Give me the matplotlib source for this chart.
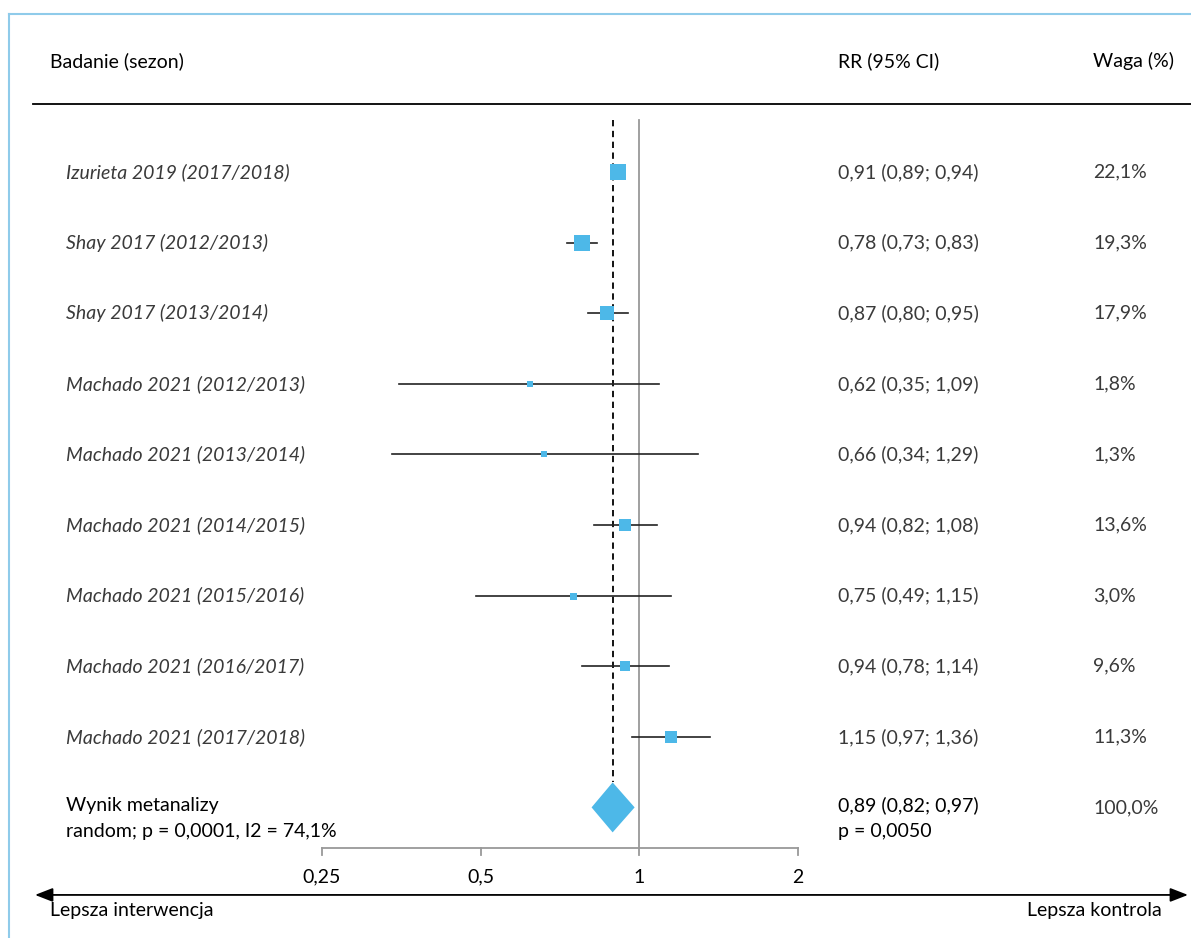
import numpy as np
import matplotlib
matplotlib.use('Agg')
from matplotlib import pyplot as plt
from matplotlib.patches import Polygon, FancyArrowPatch
from matplotlib.lines import Line2D

plt.rcParams['font.family'] = ['Lato', 'DejaVu Sans']

""" Dane """
studies = ['Izurieta 2019 (2017/2018)', 'Shay 2017 (2012/2013)', 'Shay 2017 (2013/2014)',
           'Machado 2021 (2012/2013)', 'Machado 2021 (2013/2014)', 'Machado 2021 (2014/2015)',
           'Machado 2021 (2015/2016)', 'Machado 2021 (2016/2017)', 'Machado 2021 (2017/2018)']
rr = [0.91, 0.78, 0.87, 0.62, 0.66, 0.94, 0.75, 0.94, 1.15]
ci_low = [0.89, 0.73, 0.80, 0.35, 0.34, 0.82, 0.49, 0.78, 0.97]
ci_high = [0.94, 0.83, 0.95, 1.09, 1.29, 1.08, 1.15, 1.14, 1.36]
weights = [22.1, 19.3, 17.9, 1.8, 1.3, 13.6, 3.0, 9.6, 11.3]

pooled_rr, pooled_low, pooled_high = 0.89, 0.82, 0.97
pooled_weight = 100.0
pooled_p = '0,0050'
het_p = '0,0001'
het_i2 = 74.1

ticks = [0.25, 0.5, 1, 2]
tick_labels = ['0,25', '0,5', '1', '2']


def fmt(v):
    return f'{v:.2f}'.replace('.', ',')


def pct(v):
    return f'{v:.1f}%'.replace('.', ',')


W, H = 1191, 938
fig = plt.figure(figsize=(W / 100, H / 100), dpi=100)
ax = fig.add_axes([0, 0, 1, 1])
ax.set_xscale('log', base=2)
ax.set_xlim(2 ** -4.026, 2 ** 3.474)
ax.set_ylim(10.85, -2.436)
ax.axis('off')

blue = '#4DB8E8'
row_col = '#3a3a3a'
fs = 14
xt = ax.get_yaxis_transform()  # x w ulamku osi, y w danych

# Naglowek
ax.text(50 / W, -1.572, 'Badanie (sezon)', transform=xt, fontsize=fs, va='center', color='black')
ax.text(838 / W, -1.572, 'RR (95% CI)', transform=xt, fontsize=fs, va='center', color='black')
ax.text(1093 / W, -1.572, 'Waga (%)', transform=xt, fontsize=fs, va='center', color='black')
ax.plot([33 / W, 1], [-0.963, -0.963], transform=xt, color='black', lw=1.3)

n = len(studies)
ypos = np.arange(n)
diamond_y = n
top_y = -0.737

# Linie pionowe
ax.plot([1, 1], [top_y, 9.575], color='#999999', lw=1.3, zorder=1)
ax.plot([pooled_rr, pooled_rr], [top_y, diamond_y - 0.354], color='black', lw=1.3,
        dashes=(3.5, 2.5), zorder=1)

# Badania
for i in range(n):
    ax.plot([ci_low[i], ci_high[i]], [ypos[i], ypos[i]], color='#222222', lw=1.2, zorder=2)
    ax.plot(rr[i], ypos[i], marker='s', color=blue, ms=(5.5 + 0.5 * weights[i]) * 0.72,
            mew=0, zorder=3)
    ax.text(66 / W, ypos[i], studies[i], transform=xt, fontsize=fs, style='italic',
            va='center', color=row_col)
    ax.text(838 / W, ypos[i], f'{fmt(rr[i])} ({fmt(ci_low[i])}; {fmt(ci_high[i])})',
            transform=xt, fontsize=fs, va='center', color=row_col)
    ax.text(1093 / W, ypos[i], pct(weights[i]), transform=xt, fontsize=fs, va='center',
            color=row_col)

# Wynik metanalizy
dia = Polygon([(pooled_low * 0.99, diamond_y), (pooled_rr, diamond_y - 0.354),
               (pooled_high * 1.01, diamond_y), (pooled_rr, diamond_y + 0.354)],
              closed=True, facecolor=blue, edgecolor='none', zorder=3)
ax.add_patch(dia)
ax.text(66 / W, diamond_y - 0.03, 'Wynik metanalizy', transform=xt, fontsize=fs,
        va='center', color='black')
ax.text(66 / W, diamond_y + 0.34, f'random; p = {het_p}, I2 = {pct(het_i2)}', transform=xt,
        fontsize=fs, va='center', color='black')
ax.text(838 / W, diamond_y - 0.03, f'{fmt(pooled_rr)} ({fmt(pooled_low)}; {fmt(pooled_high)})',
        transform=xt, fontsize=fs, va='center', color='black')
ax.text(838 / W, diamond_y + 0.34, f'p = {pooled_p}', transform=xt, fontsize=fs,
        va='center', color='black')
ax.text(1093 / W, diamond_y, pct(pooled_weight), transform=xt, fontsize=fs, va='center',
        color=row_col)

# Os x
ax_y = 9.575
ax.plot([ticks[0], ticks[-1]], [ax_y, ax_y], color='#999999', lw=1.3, zorder=1)
for t, lab in zip(ticks, tick_labels):
    ax.plot([t, t], [ax_y, ax_y + 0.1], color='#999999', lw=1.3)
    ax.text(t, 9.99, lab, fontsize=fs, ha='center', va='center', color='black')

# Strzalka
arr = FancyArrowPatch((35 / W, 10.24), (1188 / W, 10.24), transform=xt,
                      arrowstyle='<|-|>,head_length=0.9,head_width=0.35', color='black',
                      lw=1.3, shrinkA=0, shrinkB=0, mutation_scale=12)
ax.add_patch(arr)
ax.text(50 / W, 10.467, 'Lepsza interwencja', transform=xt, fontsize=fs, va='center',
        color='black')
ax.text(1162 / W, 10.467, 'Lepsza kontrola', transform=xt, fontsize=fs, va='center',
        ha='right', color='black')

# Ramka
border = '#8FCBEA'
fig.add_artist(Line2D([9 / W, 9 / W], [0, 1 - 14 / H], color=border, lw=1.5))
fig.add_artist(Line2D([9 / W, 1], [1 - 14 / H, 1 - 14 / H], color=border, lw=1.5))

plt.savefig('out.png', dpi=100)
